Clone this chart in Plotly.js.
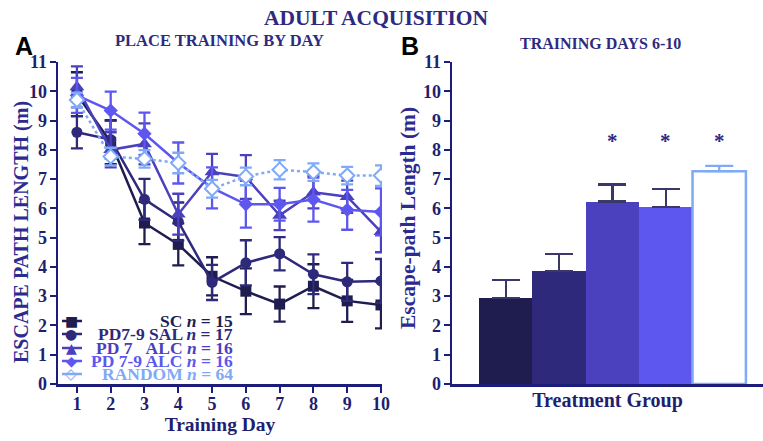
<!DOCTYPE html>
<html>
<head>
<meta charset="utf-8">
<script src="https://cdn.plot.ly/plotly-3.0.1.min.js"></script>
<style>html,body{margin:0;padding:0;background:#fff;}#chart{width:763px;height:441px;}</style>
</head>
<body>
<div id="chart"></div>
<script>
// ---- Panel A data: escape path length by training day ----
var days = [1, 2, 3, 4, 5, 6, 7, 8, 9, 10];
var seriesNames = ['SC', 'PD7-9 SAL', 'PD 7 ALC', 'PD 7-9 ALC', 'RANDOM'];
var seriesN = [15, 17, 16, 16, 64];
var scMean = [9.9, 8.26, 5.5, 4.77, 3.68, 3.17, 2.73, 3.34, 2.84, 2.70];
var scSem = [0.75, 0.75, 0.72, 0.72, 0.65, 0.78, 0.6, 0.75, 0.72, 0.8];
var salMean = [8.6, 8.35, 6.31, 5.55, 3.47, 4.14, 4.45, 3.75, 3.49, 3.52];
var salSem = [0.55, 0.65, 0.7, 0.65, 0.6, 0.77, 0.57, 0.68, 0.65, 0.75];
var pd7Mean = [10.15, 8.0, 8.2, 5.8, 7.24, 7.07, 5.76, 6.55, 6.4, 5.2];
var pd7Sem = [0.7, 0.6, 0.7, 0.7, 0.62, 0.75, 0.5, 0.55, 0.55, 0.7];
var pd79Mean = [9.86, 9.34, 8.55, 7.55, 6.7, 6.14, 6.14, 6.3, 5.95, 5.88];
var pd79Sem = [0.6, 0.65, 0.72, 0.7, 0.7, 0.8, 0.56, 0.75, 0.68, 0.8];
var randMean = [9.7, 7.77, 7.69, 7.55, 6.67, 7.09, 7.32, 7.24, 7.12, 7.12];
var randSem = [0.25, 0.3, 0.3, 0.35, 0.3, 0.3, 0.33, 0.3, 0.3, 0.35];

// ---- Panel B data: training days 6-10 ----
var groups = ['SC', 'PD7-9 SAL', 'PD 7 ALC', 'PD 7-9 ALC', 'RANDOM'];
var groupMeans = [2.95, 3.87, 6.23, 6.05, 7.27];
var groupSems = [0.6, 0.56, 0.59, 0.6, 0.18];
var groupStars = ['', '', '*', '*', '*'];
var starLevel = 8.3;

var yTicks = [0, 1, 2, 3, 4, 5, 6, 7, 8, 9, 10, 11];

// ---- styles ----
var colors = ['#1f1d4f', '#2e297a', '#4b40bd', '#5d57ef', '#80aaf6'];
var symbols = ['square', 'circle', 'triangle-up', 'diamond', 'diamond'];
var glyphs = ['\u25A0', '\u25CF', '\u25B2', '\u25C6', '\u25C7'];
var navy = '#1c1c7a';
var serif = 'Liberation Serif, Times New Roman, serif';
var W = 763, H = 441;
function px(x) { return x / W; }
function py(y) { return 1 - y / H; }

var means = [scMean, salMean, pd7Mean, pd79Mean, randMean];
var sems = [scSem, salSem, pd7Sem, pd79Sem, randSem];

var traces = [];
for (var i = 0; i < 5; i++) {
  var isRand = (i === 4);
  traces.push({
    type: 'scatter', mode: 'lines+markers',
    x: days, y: means[i], name: seriesNames[i],
    xaxis: 'x', yaxis: 'y', showlegend: false,
    line: {color: colors[i], width: 2.5, dash: isRand ? 'dot' : 'solid'},
    marker: {symbol: symbols[i], size: i === 2 ? 13 : 11,
             color: isRand ? '#ffffff' : colors[i],
             line: {color: colors[i], width: isRand ? 2 : 0}},
    error_y: {type: 'data', array: sems[i], visible: true, color: colors[i], thickness: 2.3, width: 6}
  });
}

var barFill = ['#1f1d4f', '#2e297a', '#4b40bd', '#5d57ef', '#ffffff'];
var barErrColor = ['#3a3868', '#3a3868', '#3a3868', '#3a3868', '#80aaf6'];
for (var j = 0; j < groups.length; j++) {
  traces.push({
    type: 'bar', x: [groups[j]], y: [groupMeans[j]], name: groups[j],
    xaxis: 'x2', yaxis: 'y2', showlegend: false, width: 1,
    marker: {color: barFill[j], line: {color: colors[4], width: j === 4 ? 2.5 : 0}},
    error_y: {type: 'data', array: [groupSems[j]], arrayminus: [0], visible: true,
              color: barErrColor[j], thickness: 2.3, width: 14}
  });
}

var annotations = [];
var titleColor = '#2d2a80';
annotations.push({xref: 'paper', yref: 'paper', x: px(376), y: py(18), text: '<b>ADULT ACQUISITION</b>',
  showarrow: false, font: {family: serif, size: 21.5, color: titleColor}, xanchor: 'center', yanchor: 'middle'});
annotations.push({xref: 'paper', yref: 'paper', x: px(220), y: py(40), text: '<b>PLACE TRAINING BY DAY</b>',
  showarrow: false, font: {family: serif, size: 16.5, color: titleColor}, xanchor: 'center', yanchor: 'middle'});
annotations.push({xref: 'paper', yref: 'paper', x: px(600), y: py(44), text: '<b>TRAINING DAYS 6-10</b>',
  showarrow: false, font: {family: serif, size: 16, color: titleColor}, xanchor: 'center', yanchor: 'middle'});
annotations.push({xref: 'paper', yref: 'paper', x: px(24), y: py(46), text: '<b>A</b>',
  showarrow: false, font: {family: 'Liberation Sans, Arial, sans-serif', size: 25, color: '#000000'}, xanchor: 'center', yanchor: 'middle'});
annotations.push({xref: 'paper', yref: 'paper', x: px(410), y: py(46), text: '<b>B</b>',
  showarrow: false, font: {family: 'Liberation Sans, Arial, sans-serif', size: 25, color: '#000000'}, xanchor: 'center', yanchor: 'middle'});

// y-axis titles
annotations.push({xref: 'paper', yref: 'paper', x: px(22), y: py(232), text: '<b>ESCAPE PATH LENGTH (m)</b>',
  textangle: -90, showarrow: false, font: {family: serif, size: 20, color: '#2d2a90'}, xanchor: 'center', yanchor: 'middle'});
annotations.push({xref: 'paper', yref: 'paper', x: px(408), y: py(218), text: '<b>Escape-path Length (m)</b>',
  textangle: -90, showarrow: false, font: {family: serif, size: 21.5, color: '#2d2a90'}, xanchor: 'center', yanchor: 'middle'});

// stars above bars
for (var k = 0; k < groups.length; k++) {
  if (groupStars[k]) {
    annotations.push({xref: 'x2', yref: 'y2', x: groups[k], y: starLevel, text: '<b>' + groupStars[k] + '</b>',
      showarrow: false, font: {family: serif, size: 21, color: titleColor}, xanchor: 'center', yanchor: 'middle'});
  }
}

// legend (right-aligned labels, key glyphs)
var rowY = [321, 334, 348, 361, 374];
var labels = ['SC', 'PD7-9 SAL', 'PD 7\u00a0\u00a0\u00a0ALC', 'PD 7-9 ALC', 'RANDOM'];
var shapes = [];
for (var m = 0; m < 5; m++) {
  annotations.push({xref: 'paper', yref: 'paper', x: px(235), y: py(rowY[m]),
    text: '<b>' + labels[m] + ' <i>n</i> = ' + seriesN[m] + '</b>',
    showarrow: false, font: {family: serif, size: 17.5, color: colors[m]}, xanchor: 'right', yanchor: 'middle'});
  shapes.push({type: 'line', xref: 'paper', yref: 'paper', x0: px(62), x1: px(82), y0: py(rowY[m]), y1: py(rowY[m]),
    line: {color: colors[m], width: 2.5}});
  annotations.push({xref: 'paper', yref: 'paper', x: px(71), y: py(rowY[m]), text: glyphs[m],
    showarrow: false,
    font: {family: 'DejaVu Sans', size: m === 4 ? 15 : 14, color: colors[m]}, xanchor: 'center', yanchor: 'middle'});
}

var tickFont = {family: serif, size: 18, color: '#1f1f70', weight: 'bold'};
var layout = {
  width: W, height: H,
  margin: {l: 0, r: 0, t: 0, b: 0},
  paper_bgcolor: '#ffffff', plot_bgcolor: 'rgba(0,0,0,0)',
  showlegend: false,
  xaxis: {domain: [px(58), px(382)], range: [0.44, 10.03], tickvals: days,
    showline: true, linecolor: navy, linewidth: 2.5, ticks: 'outside', ticklen: 6, tickwidth: 2, tickcolor: navy,
    showgrid: false, zeroline: false, tickfont: tickFont, anchor: 'y', ticklabelstandoff: -4,
    title: {text: '<b>Training Day</b>', font: {family: serif, size: 19.5, color: '#1f1f70'}, standoff: 2}},
  yaxis: {domain: [py(384), py(62)], range: [0, 11], tickvals: yTicks,
    showline: true, linecolor: navy, linewidth: 2.5, ticks: 'outside', ticklen: 6, tickwidth: 2, tickcolor: navy,
    showgrid: false, zeroline: false, tickfont: tickFont, anchor: 'x', ticklabelstandoff: -1},
  xaxis2: {domain: [px(452), 1], range: [-1.006, 4.82], type: 'category',
    showline: true, linecolor: navy, linewidth: 2.5, ticks: '', showticklabels: false,
    showgrid: false, zeroline: false, anchor: 'y2',
    title: {text: '<b>Treatment Group</b>', font: {family: serif, size: 20, color: '#1f1f70'}, standoff: 8}},
  yaxis2: {domain: [py(384), py(62)], range: [0, 11], tickvals: yTicks,
    showline: true, linecolor: navy, linewidth: 2.5, ticks: 'outside', ticklen: 6, tickwidth: 2, tickcolor: navy,
    showgrid: false, zeroline: false, tickfont: tickFont, anchor: 'x2', ticklabelstandoff: -1},
  barmode: 'overlay', bargap: 0,
  annotations: annotations,
  shapes: shapes
};

Plotly.newPlot('chart', traces, layout, {displayModeBar: false, staticPlot: true});
</script>
</body>
</html>
